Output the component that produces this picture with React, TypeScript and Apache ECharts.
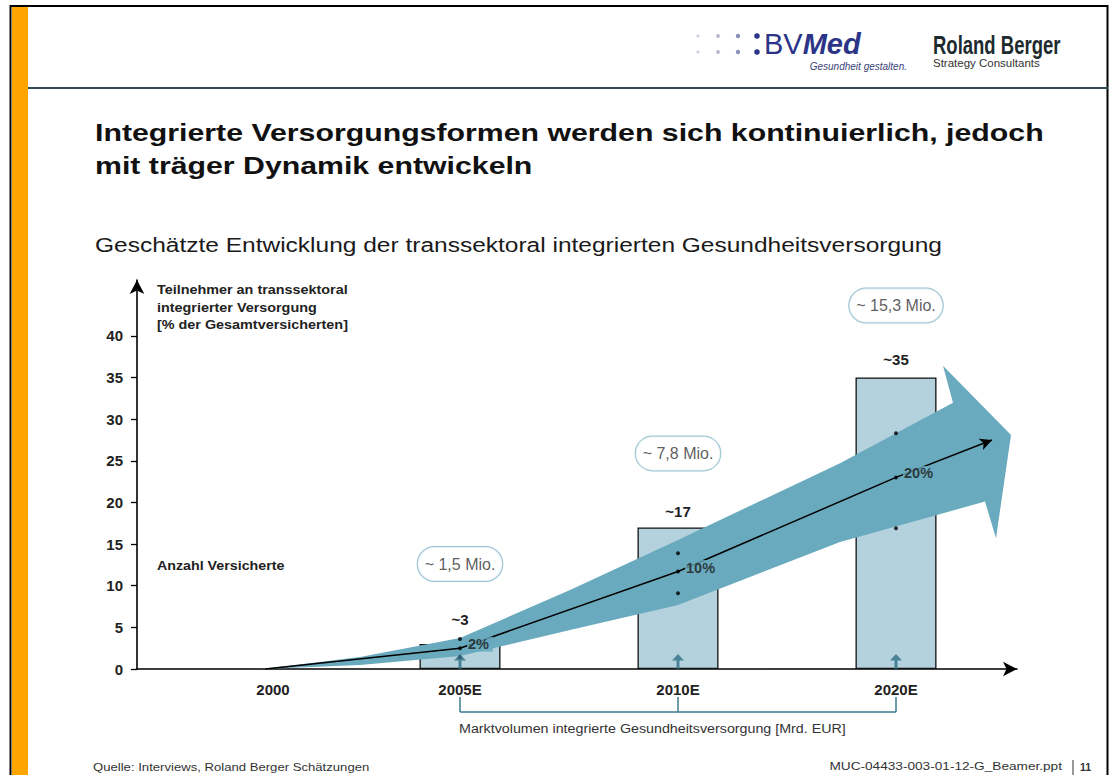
import React, { useEffect, useRef } from "react";
import * as echarts from "echarts";

// ---------- data ----------
const categories = ["2000", "2005E", "2010E", "2020E"];
const categoryX = [136, 323, 541, 759]; // slot of each period along the horizontal axis
const yTicks = [0, 5, 10, 15, 20, 25, 30, 35, 40];
const barPeriods = ["2005E", "2010E", "2020E"];
const participantsPct = [3, 17, 35];
const participantLabels = ["~3", "~17", "~35"];
const insuredLabels = ["~ 1,5 Mio.", "~ 7,8 Mio.", "~ 15,3 Mio."];
const marketGrowthLabels = ["2%", "10%", "20%"];
const marketMid = [2.5, 11.7, 23];
const marketLow = [1.4, 9.1, 16.9];
const marketHigh = [3.6, 13.9, 28.3];
const trendStart: [number, number] = [128, 0];
const trendEnd: [number, number] = [855, 27.5];
// outline of the broad growth arrow (x slot, y value)
const bandArrow: [number, number][] = [
  [125, 0], [223, 1.44], [323, 3.72], [433, 9.49], [541, 15.5], [703, 24.7],
  [816, 31.95], [806, 36.4], [874, 28.1], [859, 15.7], [848, 20.1],
  [703, 15.25], [541, 7.69], [433, 4.68], [323, 1.56], [223, 0.48],
];

const FONT = "'Liberation Sans', Arial, Helvetica, sans-serif";
const BAND = "#69aabe";
const BAR = "#b3d2de";
const TEAL_DARK = "#2f6f82";

function barX(period: string) {
  return categoryX[categories.indexOf(period)];
}

export default function App() {
  const ref = useRef<HTMLDivElement>(null);

  useEffect(() => {
    if (!ref.current) return;
    const chart = echarts.init(ref.current, undefined, { renderer: "svg" });

    const labelLift = [17, 8, 10];
    const bubbleLift = [80, 74, 72];

    const option: any = {
      animation: false,
      backgroundColor: "#fff",
      textStyle: { fontFamily: FONT },
      grid: { left: 137, right: 98, top: 280, bottom: 106, containLabel: false },
      xAxis: {
        type: "value",
        min: 0,
        max: 880,
        splitLine: { show: false },
        axisTick: { show: false },
        axisLine: {
          show: true,
          onZero: true,
          symbol: ["none", "arrow"],
          symbolSize: [11, 14],
          lineStyle: { color: "#000", width: 1.6 },
        },
        axisLabel: {
          customValues: categoryX,
          formatter: (v: number) => categories[categoryX.indexOf(v)] ?? "",
          fontFamily: FONT,
          fontWeight: "bold",
          fontSize: 15,
          color: "#222",
          margin: 13,
        },
      },
      yAxis: {
        type: "value",
        min: 0,
        max: 46.7,
        interval: 5,
        splitLine: { show: false },
        axisLine: {
          show: true,
          symbol: ["none", "arrow"],
          symbolSize: [11, 14],
          lineStyle: { color: "#000", width: 1.6 },
        },
        axisTick: {
          show: true,
          customValues: yTicks,
          length: 6,
          lineStyle: { color: "#000", width: 1.3 },
        },
        axisLabel: {
          customValues: yTicks,
          fontFamily: FONT,
          fontWeight: "bold",
          fontSize: 15,
          color: "#222",
          margin: 14,
        },
      },
      series: [
        {
          type: "bar",
          z: 2,
          barWidth: 81,
          data: barPeriods.map((p, i) => ({
            value: [barX(p), participantsPct[i]],
            label: { distance: labelLift[i] },
          })),
          itemStyle: { color: BAR, borderColor: "#111", borderWidth: 1.3 },
          label: {
            show: true,
            position: "top",
            formatter: (p: any) => participantLabels[p.dataIndex],
            fontFamily: FONT,
            fontWeight: "bold",
            fontSize: 15,
            color: "#222",
          },
        },
        {
          type: "custom",
          z: 3,
          silent: true,
          clip: false,
          data: [[0, 0]],
          renderItem: (_params: any, api: any) => ({
            type: "polygon",
            shape: { points: bandArrow.map((p) => api.coord(p)) },
            style: { fill: BAND },
          }),
        },
        {
          type: "line",
          z: 4,
          symbol: "none",
          data: [trendStart, ...barPeriods.map((p, i) => [barX(p), marketMid[i]])],
          lineStyle: { color: "#000", width: 1.5 },
          markLine: {
            silent: true,
            symbol: ["none", "arrow"],
            symbolSize: [9, 12],
            label: { show: false },
            lineStyle: { color: "#000", width: 1.5, type: "solid" },
            data: [[
              { coord: [barX("2020E"), marketMid[2]] },
              { coord: trendEnd },
            ]],
          },
        },
        {
          type: "scatter",
          z: 5,
          symbolSize: 4,
          itemStyle: { color: "#000" },
          data: [
            ...barPeriods.map((p, i) => [barX(p), marketLow[i]]),
            ...barPeriods.map((p, i) => [barX(p), marketHigh[i]]),
          ],
        },
        {
          type: "scatter",
          z: 6,
          symbolSize: 4,
          itemStyle: { color: "#000" },
          data: barPeriods.map((p, i) => [barX(p), marketMid[i]]),
          label: {
            show: true,
            position: "right",
            distance: 5,
            offset: [0, -4],
            formatter: (p: any) => marketGrowthLabels[p.dataIndex],
            fontFamily: FONT,
            fontWeight: "bold",
            fontSize: 14.5,
            color: "#1a1a1a",
            backgroundColor: BAND,
            padding: [0, 4, 0, 1],
          },
        },
        {
          type: "scatter",
          z: 7,
          symbol: "path://M6,0 L12,7 L7.5,7 L7.5,16 L4.5,16 L4.5,7 L0,7 Z",
          symbolSize: [12, 15],
          symbolOffset: [0, "-50%"],
          itemStyle: { color: TEAL_DARK },
          data: barPeriods.map((p) => [barX(p), 0]),
        },
        {
          type: "scatter",
          z: 8,
          symbolSize: 0,
          data: barPeriods.map((p, i) => ({
            value: [barX(p), participantsPct[i]],
            label: { offset: [0, -bubbleLift[i]] },
          })),
          label: {
            show: true,
            position: "inside",
            formatter: (p: any) => insuredLabels[p.dataIndex],
            fontFamily: FONT,
            fontSize: 16,
            color: "#333",
            backgroundColor: "#fff",
            borderColor: "#7db4c6",
            borderWidth: 1,
            borderRadius: 18,
            padding: [9, 7, 9, 7],
          },
        },
      ],
    };

    chart.setOption(option);

    const px = categoryX.map((v) => chart.convertToPixel({ xAxisIndex: 0 }, v) as number);
    const bx = barPeriods.map((p) => px[categories.indexOf(p)]);
    const bracketColor = "#3d7d90";

    const graphic: any[] = [
      // slide frame
      { type: "rect", z: 0, shape: { x: 12, y: 7, width: 16, height: 775 }, style: { fill: "#FEA500" } },
      { type: "rect", z: 1, shape: { x: 10.5, y: 6, width: 1097, height: 790 }, style: { fill: "none", stroke: "#000", lineWidth: 2 } },
      { type: "line", z: 1, shape: { x1: 28, y1: 88, x2: 1108, y2: 88 }, style: { stroke: "#2f4a54", lineWidth: 2 } },
      // BVMed logo
      ...[0, 1].flatMap((r) =>
        [
          { x: 698, c: "#cfd1df", s: 1.6 },
          { x: 718, c: "#b6b9d0", s: 1.9 },
          { x: 738, c: "#8b90bb", s: 2.2 },
          { x: 757, c: "#2b3486", s: 2.8 },
        ].map((d) => ({
          type: "circle",
          shape: { cx: d.x, cy: 36 + r * 16, r: d.s },
          style: { fill: d.c },
        }))
      ),
      {
        type: "text",
        x: 764,
        y: 44,
        style: {
          text: "{a|BV}{b|Med}",
          verticalAlign: "middle",
          rich: {
            a: { fontFamily: FONT, fontSize: 29, fill: "#2b3486", fontWeight: "normal" },
            b: { fontFamily: FONT, fontSize: 29, fill: "#2b3486", fontWeight: "bold", fontStyle: "italic" },
          },
        },
      },
      {
        type: "text",
        x: 907,
        y: 66,
        style: { text: "Gesundheit gestalten.", fontFamily: FONT, fontSize: 10, fontStyle: "italic", fill: "#3a3f7a", align: "right", verticalAlign: "middle" },
      },
      // Roland Berger logo
      {
        type: "text",
        x: 933,
        y: 45,
        scaleX: 0.74,
        style: { text: "Roland Berger", fontFamily: FONT, fontSize: 25, fontWeight: "bold", fill: "#1d2b2e", verticalAlign: "middle" },
      },
      {
        type: "text",
        x: 933,
        y: 63,
        style: { text: "Strategy Consultants", fontFamily: FONT, fontSize: 11.5, fill: "#333", verticalAlign: "middle" },
      },
      // titles
      {
        type: "text",
        x: 95,
        y: 133,
        scaleX: 1.236,
        style: { text: "Integrierte Versorgungsformen werden sich kontinuierlich, jedoch", fontFamily: FONT, fontSize: 24.5, fontWeight: "bold", fill: "#111", verticalAlign: "middle" },
      },
      {
        type: "text",
        x: 95,
        y: 166,
        scaleX: 1.236,
        style: { text: "mit träger Dynamik entwickeln", fontFamily: FONT, fontSize: 24.5, fontWeight: "bold", fill: "#111", verticalAlign: "middle" },
      },
      {
        type: "text",
        x: 95,
        y: 245,
        scaleX: 1.225,
        style: { text: "Geschätzte Entwicklung der transsektoral integrierten Gesundheitsversorgung", fontFamily: FONT, fontSize: 20, fill: "#1a1a1a", verticalAlign: "middle" },
      },
      // axis title
      ...["Teilnehmer an transsektoral", "integrierter Versorgung", "[% der Gesamtversicherten]"].map((t, i) => ({
        type: "text",
        x: 157,
        y: 290 + i * 17.5,
        scaleX: 1.15,
        style: { text: t, fontFamily: FONT, fontSize: 12.5, fontWeight: "bold", fill: "#222", verticalAlign: "middle" },
      })),
      {
        type: "text",
        x: 157,
        y: 566,
        scaleX: 1.14,
        style: { text: "Anzahl Versicherte", fontFamily: FONT, fontSize: 12.5, fontWeight: "bold", fill: "#222", verticalAlign: "middle" },
      },
      // market volume bracket
      { type: "line", shape: { x1: bx[0], y1: 712, x2: bx[2], y2: 712 }, style: { stroke: bracketColor, lineWidth: 1.5 } },
      ...bx.map((x) => ({ type: "line", shape: { x1: x, y1: 697, x2: x, y2: 712 }, style: { stroke: bracketColor, lineWidth: 1.5 } })),
      {
        type: "text",
        x: bx[0] - 1,
        y: 729,
        scaleX: 1.16,
        style: { text: "Marktvolumen integrierte Gesundheitsversorgung [Mrd. EUR]", fontFamily: FONT, fontSize: 12.3, fill: "#333", verticalAlign: "middle" },
      },
      // footer
      {
        type: "text",
        x: 93,
        y: 767,
        scaleX: 1.25,
        style: { text: "Quelle: Interviews, Roland Berger Schätzungen", fontFamily: FONT, fontSize: 10.5, fill: "#333", verticalAlign: "middle" },
      },
      {
        type: "text",
        x: 1062,
        y: 767,
        scaleX: 1.3,
        style: { text: "MUC-04433-003-01-12-G_Beamer.ppt", fontFamily: FONT, fontSize: 10.5, fill: "#333", align: "right", verticalAlign: "middle" },
      },
      { type: "line", shape: { x1: 1073, y1: 760, x2: 1073, y2: 775 }, style: { stroke: "#333", lineWidth: 1 } },
      {
        type: "text",
        x: 1080,
        y: 767,
        style: { text: "11", fontFamily: FONT, fontSize: 10.5, fontWeight: "bold", fill: "#333", verticalAlign: "middle" },
      },
    ];

    chart.setOption({ graphic });

    return () => chart.dispose();
  }, []);

  return (
    <div
      ref={ref}
      style={{ position: "fixed", left: 0, top: 0, width: 1115, height: 775, background: "#fff" }}
    />
  );
}
